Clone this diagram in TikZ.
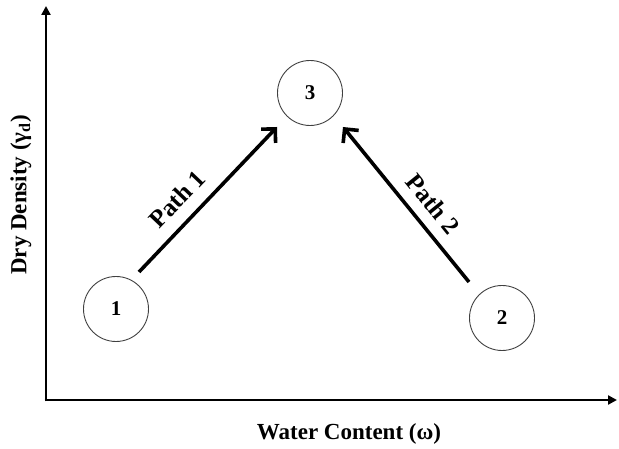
\documentclass[tikz,border=0pt]{standalone}
\usepackage{fontspec}
\setmainfont{Liberation Serif}
\usetikzlibrary{arrows.meta}
\begin{document}
\begin{tikzpicture}[x=1pt,y=1pt,
  axis/.style={line width=2.6pt,-{Triangle[length=9pt,width=9pt]}},
  state/.style={circle,draw=black!75,line width=0.9pt,minimum size=65pt,inner sep=0pt,font=\bfseries\fontsize{21}{24}\selectfont},
  pathline/.style={line width=3.6pt,-{Straight Barb[length=10pt,width=20pt,line width=3.6pt]}},
  lbl/.style={font=\bfseries\fontsize{25}{28}\selectfont},
  axlbl/.style={font=\bfseries\fontsize{23}{26}\selectfont}]
\useasboundingbox (0,0) rectangle (619,449);
\coordinate (O) at (46,49);
\coordinate (ytip) at (46,443);
\coordinate (xtip) at (617,49);
\draw[axis] ([yshift=-1.3pt]O) -- (ytip);
\draw[axis] ([xshift=-1.3pt]O) -- (xtip);
\node[state] (s3) at (310,356) {3};
\node[state] (s1) at (116,140) {1};
\node[state] (s2) at (502,131) {2};
\coordinate (a1s) at (139,177);
\coordinate (a1e) at (277,322);
\coordinate (a2s) at (469,167);
\coordinate (a2e) at (343,322);
\draw[pathline] (a1s) -- (a1e);
\draw[pathline] (a2s) -- (a2e);
\node[lbl,rotate=46.4] (p1) at (177,250) {Path 1};
\node[lbl,rotate=-51] (p2) at (433,245) {Path 2};
\node[axlbl] (xl) at (349,15) {Water Content (ω)};
\node[axlbl,rotate=90] (yl) at (21,254) {Dry Density (γ\textsubscript{d})};
\end{tikzpicture}
\end{document}
